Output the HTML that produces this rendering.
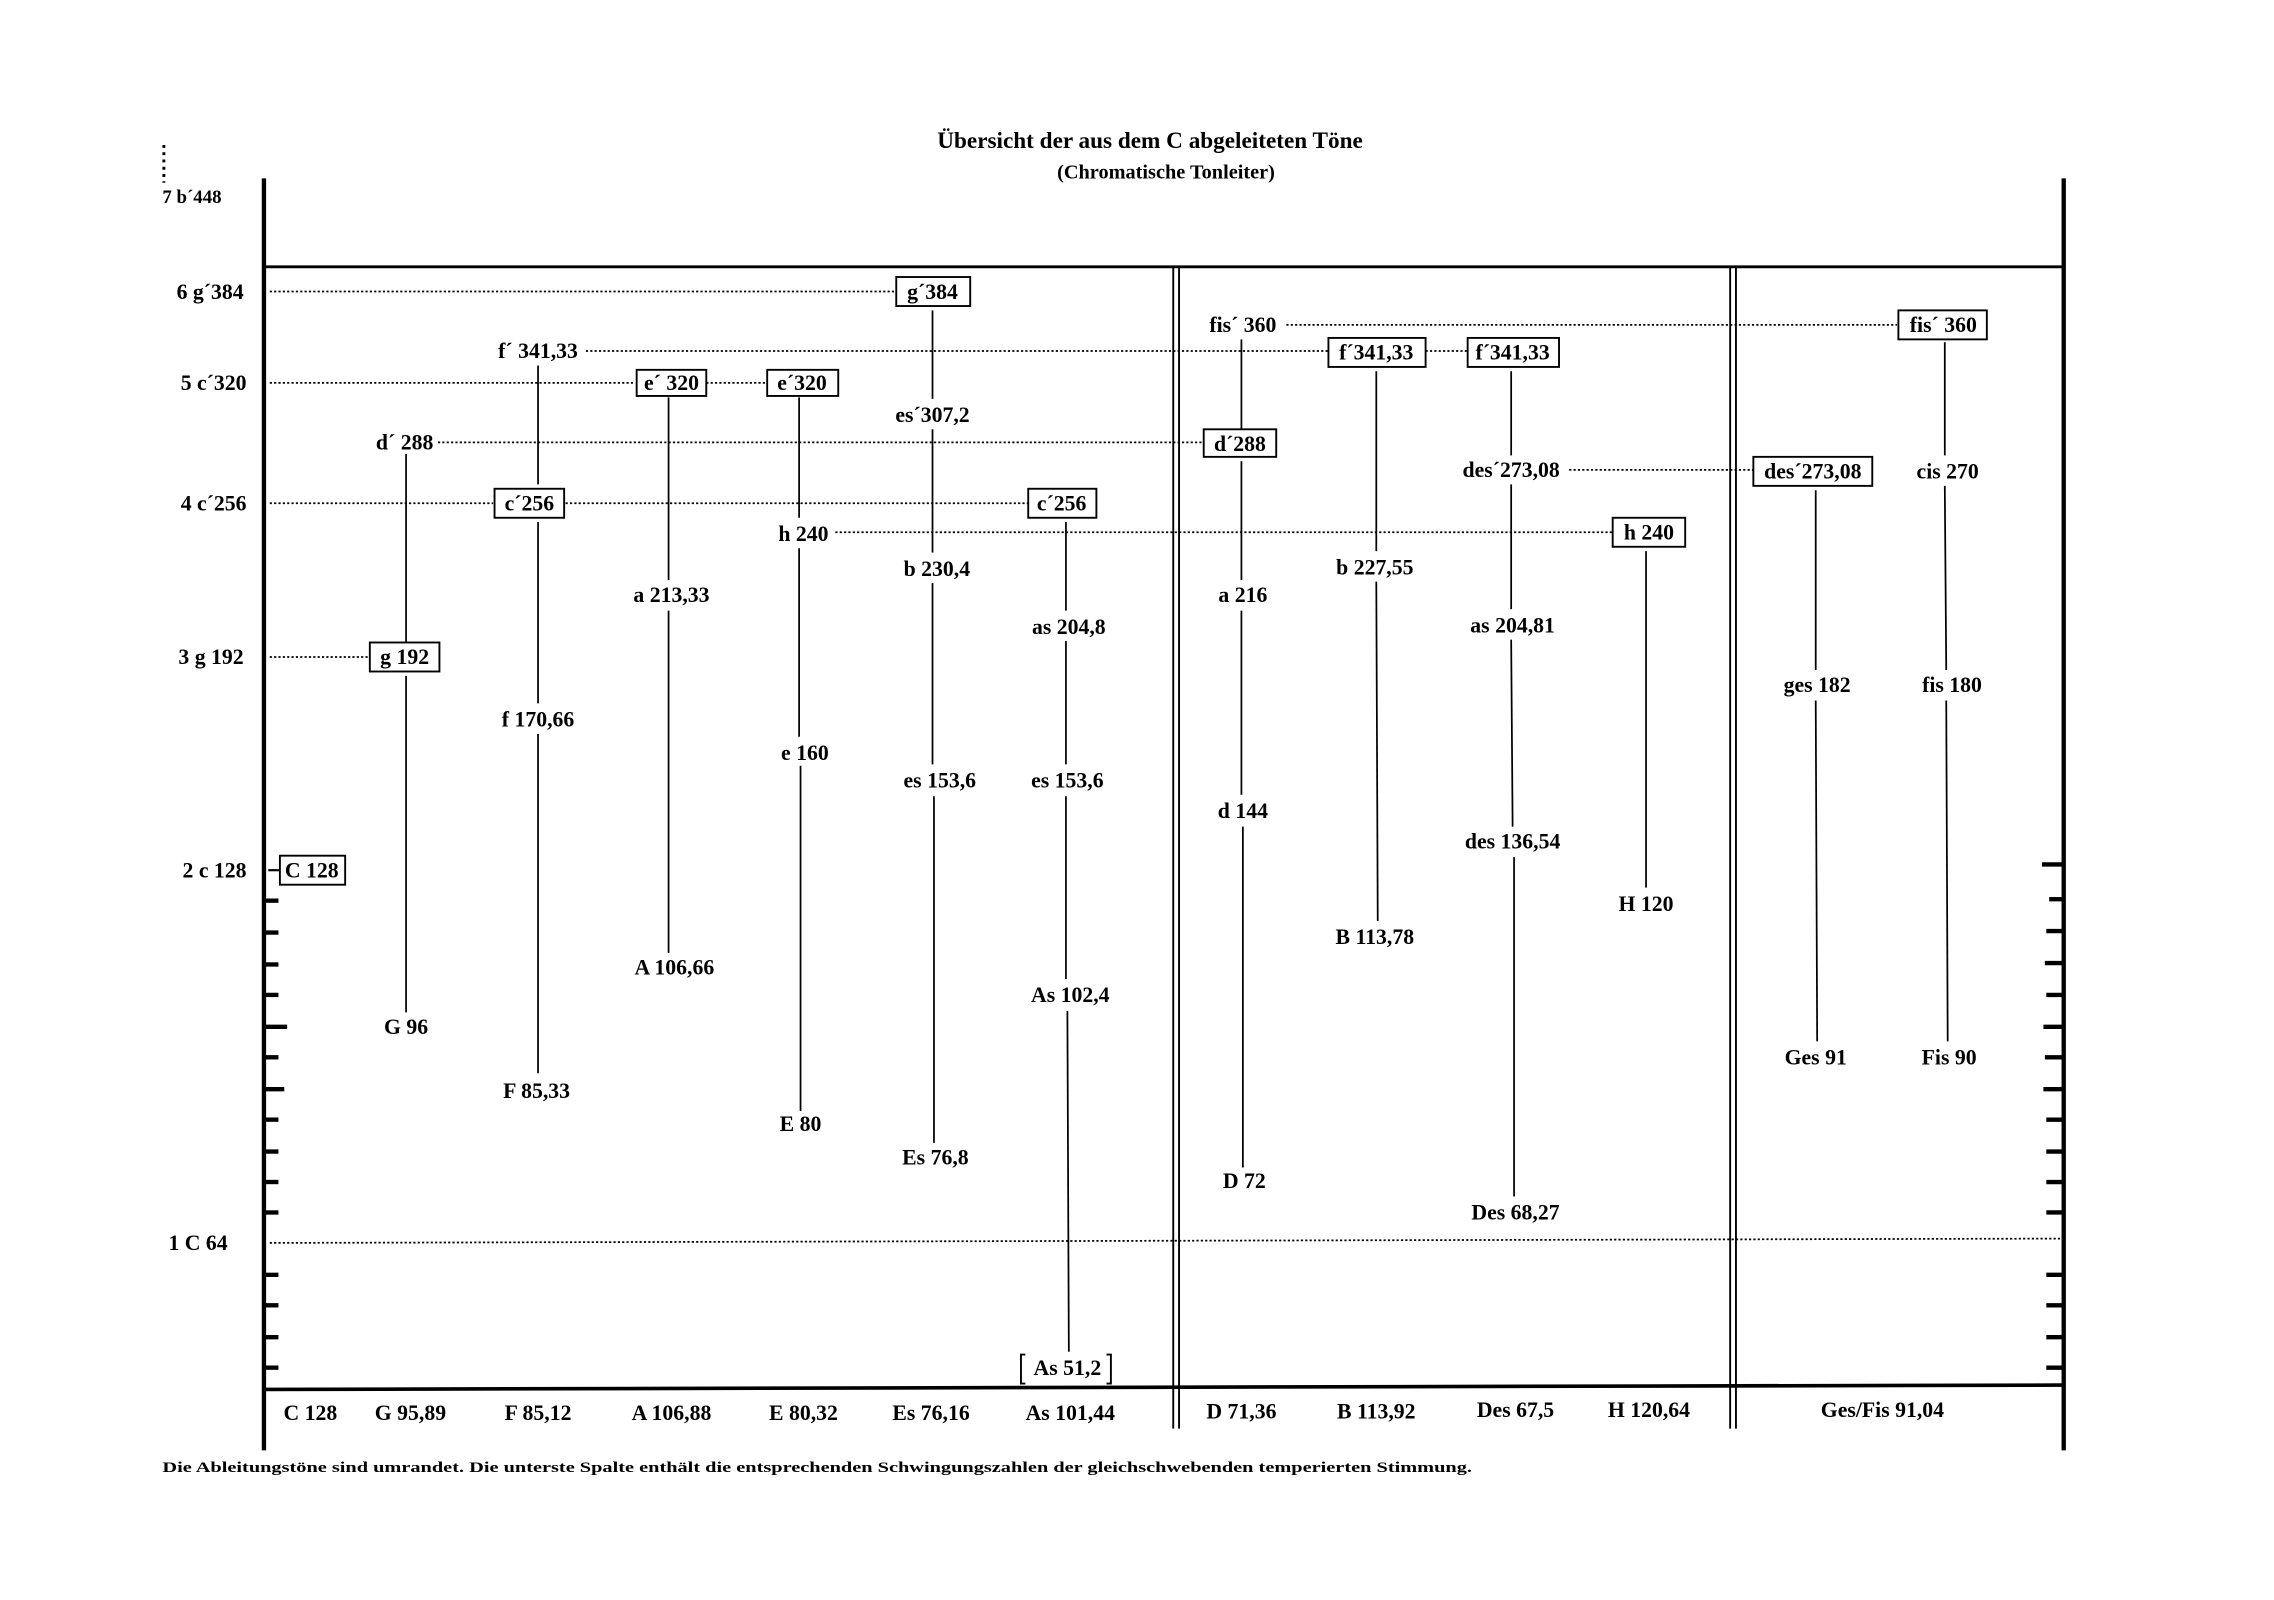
<!DOCTYPE html>
<html><head><meta charset="utf-8"><style>
html,body{margin:0;padding:0;background:#fff;}
svg{display:block;}
text{font-family:"Liberation Serif",serif;font-weight:bold;font-size:15px;fill:#000;}
.c{text-anchor:middle;}
.r{text-anchor:end;}
</style></head><body>
<svg width="2274" height="1600" viewBox="0 0 1568 1103.2" preserveAspectRatio="none" xmlns="http://www.w3.org/2000/svg">
<rect width="1568" height="1104" fill="#fff"/>
<text x="793" y="102" class="c" style="font-size:16px">Übersicht der aus dem C abgeleiteten Töne</text>
<text x="804" y="123" class="c" style="font-size:14px">(Chromatische Tonleiter)</text>
<line x1="113" y1="100" x2="113" y2="126" stroke="#000" stroke-width="2" stroke-dasharray="2,3"/>
<text x="112" y="140" style="font-size:13px">7 b´448</text>
<g stroke="#000" fill="none">
<line x1="182" y1="123" x2="182" y2="1000" stroke-width="3"/>
<line x1="1423" y1="123" x2="1423" y2="1000" stroke-width="3"/>
<line x1="182" y1="184" x2="1423" y2="184" stroke-width="2"/>
<line x1="182" y1="958" x2="1423" y2="955" stroke-width="2.5"/>
<line x1="809" y1="184" x2="809" y2="985" stroke-width="1.3"/>
<line x1="813" y1="184" x2="813" y2="985" stroke-width="1.3"/>
<line x1="1193" y1="184" x2="1193" y2="985" stroke-width="1.3"/>
<line x1="1197" y1="184" x2="1197" y2="985" stroke-width="1.3"/>
<g stroke-width="1.2" stroke-dasharray="1.5,1.5">
<line x1="186" y1="201" x2="617" y2="201"/>
<line x1="404" y1="242" x2="916" y2="242"/>
<line x1="983" y1="242" x2="1012" y2="242"/>
<line x1="186" y1="264" x2="438" y2="264"/>
<line x1="487" y1="264" x2="529" y2="264"/>
<line x1="887" y1="224" x2="1308" y2="224"/>
<line x1="302" y1="305" x2="829" y2="305"/>
<line x1="186" y1="347" x2="340" y2="347"/>
<line x1="390" y1="347" x2="709" y2="347"/>
<line x1="1082" y1="324" x2="1209" y2="324"/>
<line x1="576" y1="367" x2="1112" y2="367"/>
<line x1="186" y1="453" x2="255" y2="453"/>
<line x1="186" y1="857" x2="1423" y2="854"/>
</g>
<g stroke-width="3">
<line x1="182" y1="621" x2="192" y2="621"/><line x1="182" y1="643" x2="192" y2="643"/><line x1="182" y1="665" x2="192" y2="665"/><line x1="182" y1="686" x2="192" y2="686"/><line x1="182" y1="708" x2="198" y2="708"/><line x1="182" y1="729" x2="192" y2="729"/><line x1="182" y1="751" x2="196" y2="751"/><line x1="182" y1="772" x2="192" y2="772"/><line x1="182" y1="794" x2="192" y2="794"/><line x1="182" y1="815" x2="192" y2="815"/><line x1="182" y1="836" x2="192" y2="836"/><line x1="182" y1="879" x2="192" y2="879"/><line x1="182" y1="900" x2="192" y2="900"/><line x1="182" y1="922" x2="192" y2="922"/><line x1="182" y1="943" x2="192" y2="943"/>
<line x1="1408" y1="596" x2="1423" y2="596"/><line x1="1413" y1="620" x2="1423" y2="620"/><line x1="1411" y1="642" x2="1423" y2="642"/><line x1="1410" y1="664" x2="1423" y2="664"/><line x1="1411" y1="686" x2="1423" y2="686"/><line x1="1409" y1="708" x2="1423" y2="708"/><line x1="1410" y1="729" x2="1423" y2="729"/><line x1="1409" y1="751" x2="1423" y2="751"/><line x1="1411" y1="772" x2="1423" y2="772"/><line x1="1411" y1="794" x2="1423" y2="794"/><line x1="1411" y1="815" x2="1423" y2="815"/><line x1="1411" y1="836" x2="1423" y2="836"/><line x1="1411" y1="879" x2="1423" y2="879"/><line x1="1411" y1="900" x2="1423" y2="900"/><line x1="1411" y1="922" x2="1423" y2="922"/><line x1="1411" y1="943" x2="1423" y2="943"/>
</g>
<line x1="185" y1="600" x2="193" y2="600" stroke-width="1.5"/>
<g stroke-width="1.2">
<line x1="280" y1="313" x2="280" y2="443"/><line x1="280" y1="466" x2="280" y2="698"/>
<line x1="371" y1="252" x2="371" y2="334"/><line x1="371" y1="360" x2="371" y2="485"/><line x1="371" y1="506" x2="371" y2="740"/>
<line x1="461" y1="274" x2="461" y2="400"/><line x1="461" y1="421" x2="461" y2="657"/>
<line x1="551" y1="274" x2="551" y2="357"/><line x1="551" y1="378" x2="551" y2="508"/><line x1="552" y1="528" x2="552" y2="766"/>
<line x1="643" y1="214" x2="643" y2="275"/><line x1="643" y1="296" x2="643" y2="381"/><line x1="643" y1="402" x2="643" y2="527"/><line x1="644" y1="549" x2="644" y2="788"/>
<line x1="735" y1="360" x2="735" y2="421"/><line x1="735" y1="442" x2="735" y2="527"/><line x1="735" y1="549" x2="735" y2="675"/><line x1="736" y1="697" x2="737" y2="932"/>
<line x1="856" y1="234" x2="856" y2="296"/><line x1="856" y1="318" x2="856" y2="400"/><line x1="856" y1="421" x2="856" y2="548"/><line x1="857" y1="570" x2="857" y2="805"/>
<line x1="949" y1="256" x2="949" y2="380"/><line x1="949" y1="401" x2="950" y2="635"/>
<line x1="1042" y1="256" x2="1042" y2="314"/><line x1="1042" y1="334" x2="1042" y2="420"/><line x1="1042" y1="441" x2="1043" y2="570"/><line x1="1044" y1="591" x2="1044" y2="825"/>
<line x1="1135" y1="380" x2="1135" y2="612"/>
<line x1="1252" y1="338" x2="1252" y2="462"/><line x1="1252" y1="483" x2="1253" y2="718"/>
<line x1="1341" y1="236" x2="1341" y2="314"/><line x1="1341" y1="335" x2="1342" y2="462"/><line x1="1342" y1="483" x2="1343" y2="718"/>
</g>
<g stroke-width="1.3">
<rect x="193" y="590" width="45" height="20"/>
<rect x="255" y="443" width="48" height="20"/>
<rect x="341" y="337" width="48" height="20"/>
<rect x="439" y="255" width="48" height="18"/>
<rect x="529" y="255" width="49" height="18"/>
<rect x="618" y="191" width="51" height="20"/>
<rect x="709" y="337" width="47" height="20"/>
<rect x="830" y="296" width="50" height="19"/>
<rect x="916" y="233" width="67" height="20"/>
<rect x="1012" y="233" width="63" height="20"/>
<rect x="1112" y="357" width="50" height="20"/>
<rect x="1209" y="315" width="82" height="20"/>
<rect x="1309" y="214" width="61" height="20"/>
<path d="M707 934 h-3 v20 h3 M763 934 h3 v20 h-3"/>
</g>
</g>
<g class="r">
<text x="168" y="206" class="r">6 g´384</text>
<text x="170" y="269" class="r">5 c´320</text>
<text x="170" y="352" class="r">4 c´256</text>
<text x="168" y="458" class="r">3 g 192</text>
<text x="170" y="605" class="r">2 c 128</text>
<text x="157" y="862" class="r">1 C 64</text>
</g>
<text x="215" y="605" class="c">C 128</text>
<text x="279" y="310" class="c">d´ 288</text>
<text x="279" y="458" class="c">g 192</text>
<text x="280" y="713" class="c">G 96</text>
<text x="371" y="247" class="c">f´ 341,33</text>
<text x="365" y="352" class="c">c´256</text>
<text x="371" y="501" class="c">f 170,66</text>
<text x="370" y="757" class="c">F 85,33</text>
<text x="463" y="269" class="c">e´ 320</text>
<text x="463" y="415" class="c">a 213,33</text>
<text x="465" y="672" class="c">A 106,66</text>
<text x="553" y="269" class="c">e´320</text>
<text x="554" y="373" class="c">h 240</text>
<text x="555" y="524" class="c">e 160</text>
<text x="552" y="780" class="c">E 80</text>
<text x="643" y="206" class="c">g´384</text>
<text x="643" y="291" class="c">es´307,2</text>
<text x="646" y="397" class="c">b 230,4</text>
<text x="648" y="543" class="c">es 153,6</text>
<text x="645" y="803" class="c">Es 76,8</text>
<text x="732" y="352" class="c">c´256</text>
<text x="737" y="437" class="c">as 204,8</text>
<text x="736" y="543" class="c">es 153,6</text>
<text x="738" y="691" class="c">As 102,4</text>
<text x="736" y="948" class="c">As 51,2</text>
<text x="857" y="229" class="c">fis´ 360</text>
<text x="855" y="311" class="c">d´288</text>
<text x="857" y="415" class="c">a 216</text>
<text x="857" y="564" class="c">d 144</text>
<text x="858" y="819" class="c">D 72</text>
<text x="949" y="248" class="c">f´341,33</text>
<text x="948" y="396" class="c">b 227,55</text>
<text x="948" y="651" class="c">B 113,78</text>
<text x="1043" y="248" class="c">f´341,33</text>
<text x="1042" y="329" class="c">des´273,08</text>
<text x="1043" y="436" class="c">as 204,81</text>
<text x="1043" y="585" class="c">des 136,54</text>
<text x="1045" y="841" class="c">Des 68,27</text>
<text x="1137" y="372" class="c">h 240</text>
<text x="1135" y="628" class="c">H 120</text>
<text x="1250" y="330" class="c">des´273,08</text>
<text x="1253" y="477" class="c">ges 182</text>
<text x="1252" y="734" class="c">Ges 91</text>
<text x="1340" y="229" class="c">fis´ 360</text>
<text x="1343" y="330" class="c">cis 270</text>
<text x="1346" y="477" class="c">fis 180</text>
<text x="1344" y="734" class="c">Fis 90</text>
<text x="214" y="979" class="c">C 128</text>
<text x="283" y="979" class="c">G 95,89</text>
<text x="371" y="979" class="c">F 85,12</text>
<text x="463" y="979" class="c">A 106,88</text>
<text x="554" y="979" class="c">E 80,32</text>
<text x="642" y="979" class="c">Es 76,16</text>
<text x="738" y="979" class="c">As 101,44</text>
<text x="856" y="978" class="c">D 71,36</text>
<text x="949" y="978" class="c">B 113,92</text>
<text x="1045" y="977" class="c">Des 67,5</text>
<text x="1137" y="977" class="c">H 120,64</text>
<text x="1298" y="977" class="c">Ges/Fis 91,04</text>
<text x="112" y="1015" style="font-size:10px" textLength="903" lengthAdjust="spacingAndGlyphs">Die Ableitungstöne sind umrandet. Die unterste Spalte enthält die entsprechenden Schwingungszahlen der gleichschwebenden temperierten Stimmung.</text>
</svg>
</body></html>
